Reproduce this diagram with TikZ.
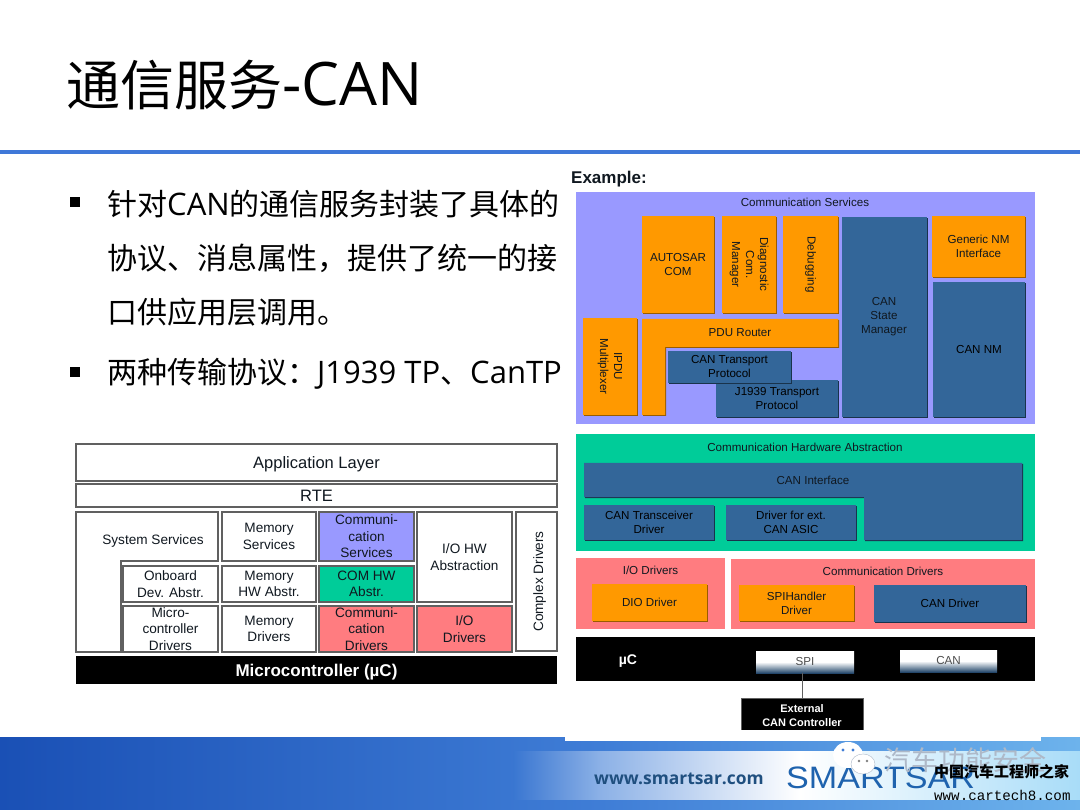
\documentclass[tikz,border=0pt]{standalone}
\usepackage{fontspec}
\usepackage{tikz}
\usetikzlibrary{shadows}
\setmainfont{Liberation Sans}
\newfontfamily\cjk{Noto Sans CJK SC}
\newfontfamily\slide{Open Sans}
\newfontfamily\cour{Liberation Mono}
\newfontfamily\logofont[FakeStretch=1.1]{Liberation Sans}
\definecolor{svcblue}{HTML}{9999FF}
\definecolor{autoorange}{HTML}{FF9900}
\definecolor{modblue}{HTML}{336699}
\definecolor{hwgreen}{HTML}{00CC99}
\definecolor{drvpink}{HTML}{FF7C80}
\definecolor{rulegrey}{HTML}{606060}
\definecolor{inktext}{HTML}{101820}
\definecolor{barblue}{HTML}{3F78D8}
\definecolor{footdeep}{HTML}{1A50B5}
\definecolor{footmid}{HTML}{3F7DD6}
\definecolor{footlight}{HTML}{6DB3EC}
\definecolor{bandend}{HTML}{A8DCF8}
\definecolor{logoblue}{HTML}{1F63AE}
\definecolor{urlblue}{HTML}{1F4F7F}
\definecolor{markgrey}{HTML}{AEB9C8}

\begin{document}
\begin{tikzpicture}[x=1pt, y=-1pt,
  wh/.style 2 args = {minimum width=#1, minimum height=#2},
  main/.style = {inner sep=0pt, align=center, text=inktext, font=\fontsize{11.6}{14}\selectfont},
  layer/.style = {main, fill=#1},
  orangebox/.style = {main, fill=autoorange, drop shadow={shadow xshift=1pt, shadow yshift=-1pt, fill=autoorange!60!black, opacity=1}},
  bluebox/.style = {main, fill=modblue, text=black, drop shadow={shadow xshift=1pt, shadow yshift=-1pt, fill=modblue!50!black, opacity=1}},
  portbox/.style = {main, top color=white, bottom color=modblue!70!black, middle color=white, text=black!70},
  archbox/.style = {main, draw=rulegrey, line width=1.2pt, fill=white, font=\fontsize{13.6}{16.5}\selectfont},
  blackbox/.style = {main, fill=black, text=white, font=\fontsize{11}{14}\selectfont\bfseries},
  bullet/.style = {fill=black, minimum size=10pt, inner sep=0pt},
  slidetext/.style = {anchor=west, inner sep=0pt, font=\fontsize{31}{36}\slide}]
  \useasboundingbox (0,0) rectangle (1080,810);
  \fill[white] (0,0) rectangle (1080,810);

  \fill[barblue] (0,150.5) rectangle (1080,154);

  \node[anchor=west, inner sep=0pt, font=\fontsize{60}{66}\slide] (title) at (66,85) {{\fontsize{54}{66}\cjk 通信服务}-CAN};

  \node[bullet] (b1) at (75,202) {};
  \node[slidetext] (l1) at (107,204) {{\fontsize{30}{36}\cjk 针对}CAN{\fontsize{30}{36}\cjk 的通信服务封装了具体的}};
  \node[slidetext] (l2) at (107,258) {{\fontsize{30}{36}\cjk 协议、消息属性，提供了统一的接}};
  \node[slidetext] (l3) at (107,312) {{\fontsize{30}{36}\cjk 口供应用层调用。}};
  \node[bullet] (b2) at (75,372) {};
  \node[slidetext] (l4) at (107,374) {{\fontsize{30}{36}\cjk 两种传输协议：}J1939 TP{\fontsize{30}{36}\cjk 、}CanTP};

  \node[anchor=west, inner sep=0pt, font=\fontsize{17}{20}\selectfont\bfseries, text=inktext] (example) at (571,179) {Example:};

  \node[layer=svcblue, wh={459}{232}] (comsvc) at (805.5,308) {};
  \node[main] (comsvclabel) at (805,202) {Communication Services};
  \node[orangebox, wh={72}{97}] (autosarcom) at (678,264.5) {AUTOSAR\\COM};
  \node[orangebox, wh={97}{54}, rotate=-90] (dcm) at (749,264.5) {Diagnostic\\Com.\\Manager};
  \node[orangebox, wh={97}{55}, rotate=-90] (debug) at (810.5,264.5) {Debugging};
  \node[bluebox, wh={85}{200}] (canstate) at (884.5,317) {};
  \node[main] (canstatelabel) at (884,317) {CAN\\State\\Manager};
  \node[orangebox, wh={93}{61}] (genericnm) at (978.5,246.5) {Generic NM\\Interface};
  \node[bluebox, wh={92}{135}] (cannm) at (979,349.5) {CAN NM};
  \node[orangebox, wh={97}{54}, rotate=-90] (ipdu) at (610,366.5) {IPDU\\Multiplexer};
  \fill[autoorange, drop shadow={shadow xshift=1pt, shadow yshift=-1pt, fill=autoorange!60!black, opacity=1}] (642,319) -- (838,319) -- (838,347) -- (665,347) -- (665,415) -- (642,415) -- cycle;
  \node[main] (pdurouter) at (740,333) {PDU Router};
  \node[bluebox, wh={122}{37}] (j1939) at (777,398.5) {J1939 Transport\\Protocol};
  \node[bluebox, wh={123}{32}] (cantp) at (729.5,367) {CAN Transport\\Protocol};

  \node[layer=hwgreen, wh={459}{117}] (comhw) at (805.5,492.5) {};
  \node[main] (comhwlabel) at (805,447) {Communication Hardware Abstraction};
  \fill[modblue, drop shadow={shadow xshift=1pt, shadow yshift=-1pt, fill=modblue!50!black, opacity=1}] (584,463) -- (1022,463) -- (1022,540) -- (864,540) -- (864,497) -- (584,497) -- cycle;
  \node[main] (canif) at (813,480) {CAN Interface};
  \node[bluebox, wh={130}{35}] (cantrcv) at (649,522.5) {CAN Transceiver\\Driver};
  \node[bluebox, wh={130}{35}] (extdrv) at (791,522.5) {Driver for ext.\\CAN ASIC};

  \node[layer=drvpink, wh={149}{71}] (iodrv) at (650.5,593.5) {};
  \node[main] (iodrvlabel) at (650.5,570) {I/O Drivers};
  \node[layer=drvpink, wh={304}{70}] (comdrv) at (883,594) {};
  \node[main] (comdrvlabel) at (883,571) {Communication Drivers};
  \node[orangebox, wh={115}{37}] (dio) at (649.5,602.5) {DIO Driver};
  \node[orangebox, wh={115}{36}] (spihandler) at (796.5,603) {SPIHandler\\Driver};
  \node[bluebox, wh={152}{37}] (candrv) at (950,603.5) {CAN Driver};

  \node[main, fill=black, wh={459}{44}] (uc) at (805.5,659) {};
  \node[blackbox, font=\fontsize{14}{16}\selectfont\bfseries] (uclabel) at (628,661) {µC};
  \node[portbox, wh={98}{22}] (spi) at (805,662) {SPI};
  \node[portbox, wh={97}{22}] (can) at (948.5,661) {CAN};
  \node[blackbox, draw=rulegrey, line width=.5pt, wh={122}{35}] (ext) at (802,715.5) {External\\CAN Controller};
  \draw[rulegrey, line width=1pt] (ext.north) -- (ext.north |- spi.south);

  \node[archbox, wh={481}{37}, font=\fontsize{16.5}{20}\selectfont, text height=14, text depth=3] (applayer) at (316.5,462.5) {Application Layer};
  \node[archbox, wh={481}{23}, font=\fontsize{16.5}{20}\selectfont] (rte) at (316.5,495.5) {RTE};
  \draw[rulegrey, line width=1.2pt, fill=white] (76,512) -- (218,512) -- (218,561) -- (121,561) -- (121,652) -- (76,652) -- cycle;
  \node[main, font=\fontsize{13.6}{16.5}\selectfont] (syssvc) at (153,541) {System Services};
  \node[archbox, wh={94}{49}] (memsvc) at (269,536.5) {Memory\\Services};
  \node[archbox, wh={95}{49}, fill=svcblue] (comsvcarch) at (366.5,536.5) {Communi-\\cation\\Services};
  \node[archbox, wh={95}{90}] (iohw) at (464.5,557) {I/O HW\\Abstraction};
  \node[archbox, wh={139}{41}, rotate=90, text height=14, text depth=1] (complex) at (536.5,581.5) {Complex Drivers};
  \node[archbox, wh={95}{36}] (onboard) at (170.5,584) {Onboard\\Dev. Abstr.};
  \node[archbox, wh={94}{36}] (memhw) at (269,584) {Memory\\HW Abstr.};
  \node[archbox, wh={95}{36}, fill=hwgreen] (comhwarch) at (366.5,584) {COM HW\\Abstr.};
  \node[archbox, wh={95}{46}] (mcudrv) at (170.5,629) {Micro-\\controller\\Drivers};
  \node[archbox, wh={94}{46}] (memdrv) at (269,629) {Memory\\Drivers};
  \node[archbox, wh={95}{46}, fill=drvpink] (comdrvarch) at (366.5,629) {Communi-\\cation\\Drivers};
  \node[archbox, wh={95}{46}, fill=drvpink] (iodrvarch) at (464.5,629) {I/O\\Drivers};
  \node[blackbox, wh={481}{28}, font=\fontsize{17}{20}\selectfont\bfseries, text height=14, text depth=2] (mcu) at (316.5,670) {Microcontroller (µC)};

  \fill[left color=footdeep, right color=footmid] (0,737) rectangle (600,810);
  \fill[left color=footmid, right color=footlight] (600,737) rectangle (1080,810);
  \fill[left color=footmid!85!footdeep, right color=footmid!60!white] (513,751) rectangle (600,799);
  \fill[left color=footmid!60!white, right color=white] (600,751) rectangle (800,799);
  \fill[left color=white, right color=bandend] (800,751) rectangle (1080,799);
  \fill[white] (565,730) rectangle (1041,741);

  \node[anchor=west, inner sep=0pt, text=urlblue, font=\fontsize{17.4}{22}\slide\bfseries] (www) at (594,779) {www.smartsar.com};
  \node[anchor=west, inner sep=0pt, text=logoblue, font=\fontsize{31}{36}\logofont] (logo) at (786,778) {SMARTSAR};
  \node[anchor=west, inner sep=0pt, text=markgrey, font=\fontsize{27}{32}\cjk] (wechat) at (884,760) {汽车功能安全};
  \fill[white] (848,755) ellipse (15 and 13);
  \fill[footmid] (843,750) circle (1.6) (853,750) circle (1.6);
  \filldraw[fill=white, draw=markgrey] (863,764) ellipse (12 and 10);
  \fill[gray] (859,761) circle (1.3) (867,761) circle (1.3);
  \node[anchor=west, inner sep=0pt, text=black, font=\fontsize{15}{18}\cjk\bfseries] (home) at (934,772) {中国汽车工程师之家};
  \node[anchor=west, inner sep=0pt, text=black, font=\fontsize{14.2}{17}\cour] (cartech) at (934,795) {www.cartech8.com};
\end{tikzpicture}
\end{document}
